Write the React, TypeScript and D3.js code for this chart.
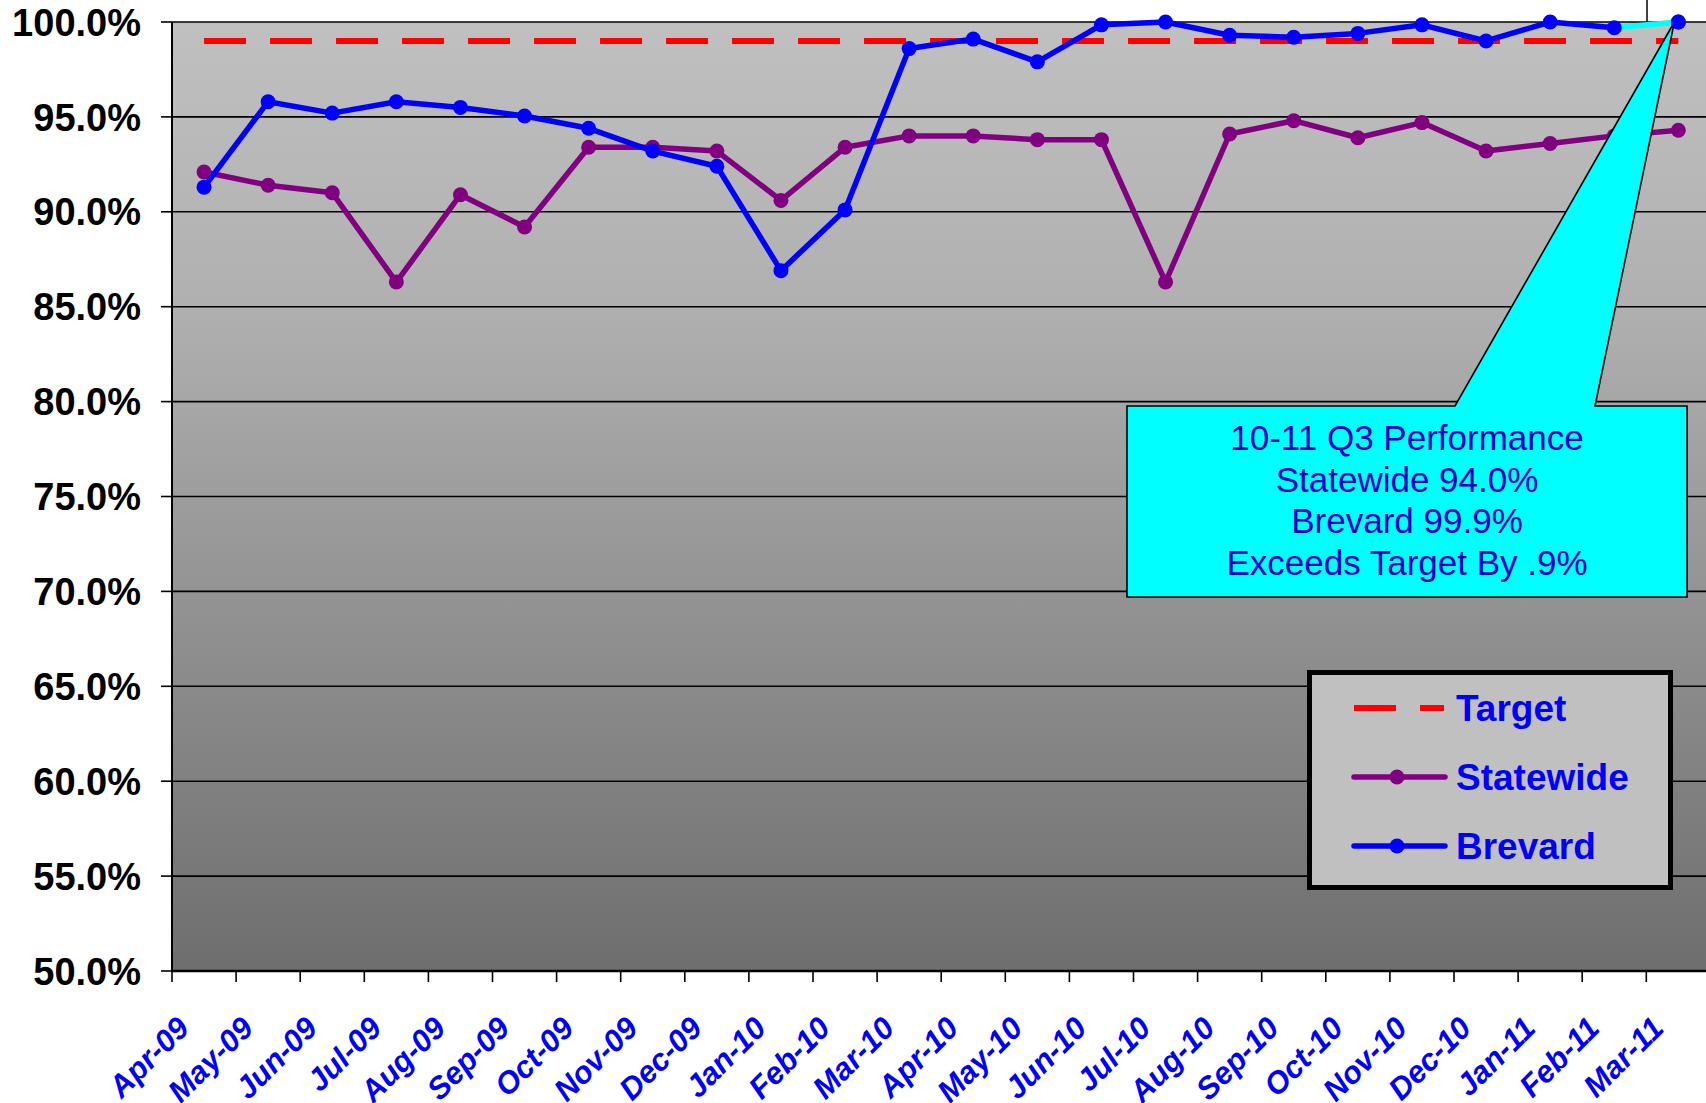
import React from "react";
import * as d3 from "d3";

const months = [
  "Apr-09", "May-09", "Jun-09", "Jul-09", "Aug-09", "Sep-09", "Oct-09", "Nov-09",
  "Dec-09", "Jan-10", "Feb-10", "Mar-10", "Apr-10", "May-10", "Jun-10", "Jul-10",
  "Aug-10", "Sep-10", "Oct-10", "Nov-10", "Dec-10", "Jan-11", "Feb-11", "Mar-11",
];
const statewide = [
  92.1, 91.4, 91.0, 86.3, 90.9, 89.2, 93.4, 93.4, 93.2, 90.6, 93.4, 94.0,
  94.0, 93.8, 93.8, 86.3, 94.1, 94.8, 93.9, 94.7, 93.2, 93.6, 94.0, 94.3,
];
const brevard = [
  91.3, 95.8, 95.2, 95.8, 95.5, 95.05, 94.4, 93.2, 92.4, 86.9, 90.1, 98.6,
  99.1, 97.9, 99.85, 100.0, 99.3, 99.2, 99.4, 99.85, 99.0, 100.0, 99.7, 100.0,
];
const target = 99.0;
const yTicks = [50, 55, 60, 65, 70, 75, 80, 85, 90, 95, 100];
const calloutLines = [
  "10-11 Q3 Performance",
  "Statewide 94.0%",
  "Brevard 99.9%",
  "Exceeds Target By .9%",
];
const legendItems = ["Target", "Statewide", "Brevard"];

const W = 1706;
const H = 1103;
const plotLeft = 172;
const step = 64.1;
const plotTop = 22;
const plotBottom = 971;
const FONT = "'Liberation Sans', Arial, Helvetica, sans-serif";
const PURPLE = "#800080";
const BLUE = "#0000FF";
const R = 7.5;
const LW = 5.5;

export default function App() {
  const x = d3
    .scaleBand<string>()
    .domain(months)
    .range([plotLeft, plotLeft + step * months.length])
    .padding(0);
  const y = d3.scaleLinear().domain([50, 100]).range([plotBottom, plotTop]);
  const cx = (m: string) => (x(m) as number) + x.bandwidth() / 2;

  const line = d3
    .line<number>()
    .x((_, i) => cx(months[i]))
    .y((d) => y(d));

  const plotRight = plotLeft + step * months.length;
  const boundaries = d3.range(months.length + 1).map((i) => plotLeft + i * step);

  const lastI = months.length - 1;
  const lastX = cx(months[lastI]);
  const lastY = y(brevard[lastI]);
  const prevX = cx(months[lastI - 1]);
  const prevY = y(brevard[lastI - 1]);

  const cL = 1127, cR = 1687, cT = 406, cB = 597;
  const apexX = lastX - 4, apexY = lastY;
  const calloutPts = [
    [cL, cT], [1455, cT], [apexX, apexY], [1595, cT], [cR, cT], [cR, cB], [cL, cB],
  ];
  const calloutCx = (cL + cR) / 2;

  const lgX = 1309.5, lgY = 672.5, lgW = 361, lgH = 215;
  const lgRows = [708, 777, 846];

  return (
    <svg
      width={W}
      height={H}
      style={{ position: "fixed", left: 0, top: 0, background: "#fff" }}
    >
      <defs>
        <linearGradient id="bg" x1="0" y1="0" x2="0" y2="1">
          <stop offset="0" stopColor="#C0C0C0" />
          <stop offset="0.3" stopColor="#B0B0B0" />
          <stop offset="1" stopColor="#6E6E6E" />
        </linearGradient>
      </defs>
      <rect x={0} y={0} width={W} height={H} fill="#fff" />
      <rect
        x={plotLeft}
        y={plotTop}
        width={plotRight - plotLeft}
        height={plotBottom - plotTop}
        fill="url(#bg)"
      />
      <line x1={1647} y1={0} x2={1647} y2={plotTop} stroke="#000" strokeWidth={1.5} />

      {yTicks.map((t) => (
        <line
          key={"g" + t}
          x1={plotLeft}
          x2={plotRight}
          y1={y(t)}
          y2={y(t)}
          stroke="#000"
          strokeWidth={t === 50 ? 2.5 : 1.6}
        />
      ))}
      <line x1={plotLeft} x2={plotLeft} y1={plotTop} y2={plotBottom + 1} stroke="#000" strokeWidth={2} />
      {yTicks.map((t) => (
        <g key={"yt" + t}>
          <line x1={plotLeft - 11} x2={plotLeft} y1={y(t)} y2={y(t)} stroke="#000" strokeWidth={1.6} />
          <text
            x={141}
            y={y(t)}
            dy="0.36em"
            textAnchor="end"
            fontFamily={FONT}
            fontWeight="bold"
            fontSize={38}
            fill="#000"
          >
            {t.toFixed(1) + "%"}
          </text>
        </g>
      ))}
      {boundaries.map((b, i) => (
        <line key={"xt" + i} x1={b} x2={b} y1={plotBottom} y2={plotBottom + 11} stroke="#000" strokeWidth={1.6} />
      ))}
      {months.map((m) => (
        <text
          key={"xl" + m}
          transform={`translate(${cx(m) - 13},${1030}) rotate(-45)`}
          textAnchor="end"
          fontFamily={FONT}
          fontWeight="bold"
          fontStyle="italic"
          fontSize={31}
          fill={BLUE}
        >
          {m}
        </text>
      ))}

      <line
        x1={cx(months[0])}
        x2={lastX}
        y1={y(target)}
        y2={y(target)}
        stroke="#FF0000"
        strokeWidth={6}
        strokeDasharray="42 24"
      />

      <path d={line(statewide) as string} fill="none" stroke={PURPLE} strokeWidth={LW} strokeLinejoin="round" />
      {statewide.map((v, i) => (
        <circle key={"s" + i} cx={cx(months[i])} cy={y(v)} r={R} fill={PURPLE} />
      ))}

      <path d={line(brevard.slice(0, lastI)) as string} fill="none" stroke={BLUE} strokeWidth={LW} strokeLinejoin="round" />
      <line x1={prevX} y1={prevY} x2={lastX} y2={lastY} stroke="#00FFFF" strokeWidth={LW} />
      {brevard.map((v, i) => (
        <circle key={"b" + i} cx={cx(months[i])} cy={y(v)} r={R} fill={BLUE} />
      ))}

      <polygon
        points={calloutPts.map((p) => p.join(",")).join(" ")}
        fill="#00FFFF"
        stroke="#000"
        strokeWidth={1.6}
        strokeLinejoin="miter"
      />
      <circle cx={lastX} cy={lastY} r={R} fill={BLUE} />
      {calloutLines.map((t, i) => (
        <text
          key={"c" + i}
          x={calloutCx}
          y={450 + i * 41.7}
          textAnchor="middle"
          fontFamily={FONT}
          fontSize={35}
          fill="#0000CC"
        >
          {t}
        </text>
      ))}

      <rect x={lgX} y={lgY} width={lgW} height={lgH} fill="#C0C0C0" stroke="#000" strokeWidth={5} />
      <line x1={1354} x2={1396} y1={lgRows[0]} y2={lgRows[0]} stroke="#FF0000" strokeWidth={6} />
      <line x1={1420} x2={1444} y1={lgRows[0]} y2={lgRows[0]} stroke="#FF0000" strokeWidth={6} />
      <line x1={1354} x2={1445} y1={lgRows[1]} y2={lgRows[1]} stroke={PURPLE} strokeWidth={LW} strokeLinecap="round" />
      <circle cx={1397} cy={lgRows[1]} r={R} fill={PURPLE} />
      <line x1={1354} x2={1445} y1={lgRows[2]} y2={lgRows[2]} stroke={BLUE} strokeWidth={LW} strokeLinecap="round" />
      <circle cx={1397} cy={lgRows[2]} r={R} fill={BLUE} />
      {legendItems.map((t, i) => (
        <text
          key={"l" + i}
          x={1456}
          y={lgRows[i] + 13}
          fontFamily={FONT}
          fontWeight="bold"
          fontSize={37}
          fill={BLUE}
        >
          {t}
        </text>
      ))}
    </svg>
  );
}
